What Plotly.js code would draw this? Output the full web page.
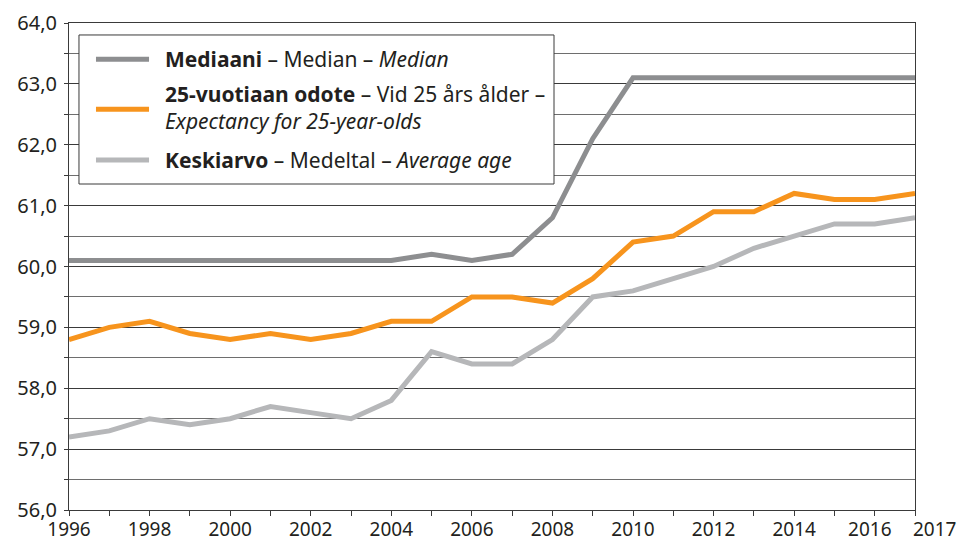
<!DOCTYPE html>
<html>
<head>
<meta charset="utf-8">
<script src="https://cdn.plot.ly/plotly-3.0.1.min.js"></script>
<style>html,body{margin:0;padding:0;background:#fff;}#chart{width:960px;height:544px;}</style>
</head>
<body>
<div id="chart"></div>
<script>
const years = [1996,1997,1998,1999,2000,2001,2002,2003,2004,2005,2006,2007,2008,2009,2010,2011,2012,2013,2014,2015,2016,2017];
const median = [60.1,60.1,60.1,60.1,60.1,60.1,60.1,60.1,60.1,60.2,60.1,60.2,60.8,62.1,63.1,63.1,63.1,63.1,63.1,63.1,63.1,63.1];
const expectancy25 = [58.8,59.0,59.1,58.9,58.8,58.9,58.8,58.9,59.1,59.1,59.5,59.5,59.4,59.8,60.4,60.5,60.9,60.9,61.2,61.1,61.1,61.2];
const average = [57.2,57.3,57.5,57.4,57.5,57.7,57.6,57.5,57.8,58.6,58.4,58.4,58.8,59.5,59.6,59.8,60.0,60.3,60.5,60.7,60.7,60.8];
const seriesNames = ["Mediaani", "25-vuotiaan odote", "Keskiarvo"];
const legendTexts = [
  "<b>Mediaani</b> – Median – <i>Median</i>",
  "<b>25-vuotiaan odote</b> – Vid 25 års ålder –<br><i>Expectancy for 25-year-olds</i>",
  "<b>Keskiarvo</b> – Medeltal – <i>Average age</i>"
];
const NB = "\u00a0";
const xTickVals = [1996,1998,2000,2002,2004,2006,2008,2010,2012,2014,2016];
const xTickText = ["1996","1998","2000","2002","2004","2006","2008","2010","2012","2014","2016" + NB + NB];
const lastYearLabel = {value: 2017, text: "2017"};

const colors = ["#8d8e90", "#f7941d", "#b6b7b9"];
const series = [median, expectancy25, average];
const traces = series.map((s, i) => ({
  x: years, y: s, type: "scatter", mode: "lines", name: seriesNames[i],
  line: {color: colors[i], width: 5}, showlegend: false
}));

// manual legend (paper coordinates)
const legBox = {x0: 0.0118, x1: 0.5733, y0: 0.6694, y1: 0.9754};
const swatchX = [0.0319, 0.0946];
const swatchY = [0.9255, 0.8228, 0.7187];
const textX = 0.1111;
const textY = [0.9251, 0.8255, 0.7187];
const txtColor = "#231f20";
const fontFam = "'Noto Sans', 'Open Sans', sans-serif";

const shapes = [{
  type: "rect", xref: "paper", yref: "paper", layer: "above",
  x0: legBox.x0, x1: legBox.x1, y0: legBox.y0, y1: legBox.y1,
  fillcolor: "#ffffff", line: {color: "#3a3a3a", width: 1}
}];
swatchY.forEach((y, i) => shapes.push({
  type: "line", xref: "paper", yref: "paper", layer: "above",
  x0: swatchX[0], x1: swatchX[1], y0: y, y1: y,
  line: {color: colors[i], width: 5}
}));
const annotations = legendTexts.map((t, i) => ({
  xref: "paper", yref: "paper", x: textX, y: textY[i],
  xanchor: "left", yanchor: "middle", align: "left", showarrow: false, text: t,
  font: {family: fontFam, size: 21, color: txtColor}
}));
// last year label, placed on the x scale and nudged right like the original
annotations.push({
  xref: "x", yref: "paper", x: lastYearLabel.value, y: 0,
  xanchor: "center", yanchor: "top", xshift: 19, yshift: -4,
  showarrow: false, text: lastYearLabel.text,
  font: {family: fontFam, size: 19, color: txtColor}
});

const layout = {
  width: 960, height: 544,
  margin: {l: 69, r: 45, t: 23, b: 34},
  paper_bgcolor: "#fff", plot_bgcolor: "#fff",
  separators: ", ",
  font: {family: fontFam, size: 20, color: txtColor},
  showlegend: false,
  shapes: shapes,
  annotations: annotations,
  xaxis: {
    range: [1996, 2017], tickmode: "array", tickvals: xTickVals, ticktext: xTickText,
    tickangle: 0, ticklabelstandoff: -3,
    showgrid: false, zeroline: false,
    showline: true, linecolor: "#3a3a3a", linewidth: 1, mirror: true,
    ticks: "outside", ticklen: 5, tickcolor: "#3a3a3a",
    minor: {dtick: 1, tick0: 1996, ticks: "outside", ticklen: 5, tickcolor: "#3a3a3a", showgrid: false},
    tickfont: {size: 19, color: txtColor}
  },
  yaxis: {
    range: [56, 64], dtick: 1, tick0: 56, tickformat: ".1f",
    ticklabelstandoff: 3,
    showgrid: true, gridcolor: "#3a3a3a", gridwidth: 1, zeroline: false,
    showline: true, linecolor: "#3a3a3a", linewidth: 1, mirror: true,
    ticks: "outside", ticklen: 4, tickcolor: "#3a3a3a",
    minor: {dtick: 0.5, tick0: 56, ticks: "outside", ticklen: 4, tickcolor: "#3a3a3a", showgrid: true, gridcolor: "#6e6e6e", gridwidth: 1},
    tickfont: {size: 20, color: txtColor}
  }
};
Plotly.newPlot("chart", traces, layout, {displayModeBar: false, staticPlot: true});
</script>
</body>
</html>
